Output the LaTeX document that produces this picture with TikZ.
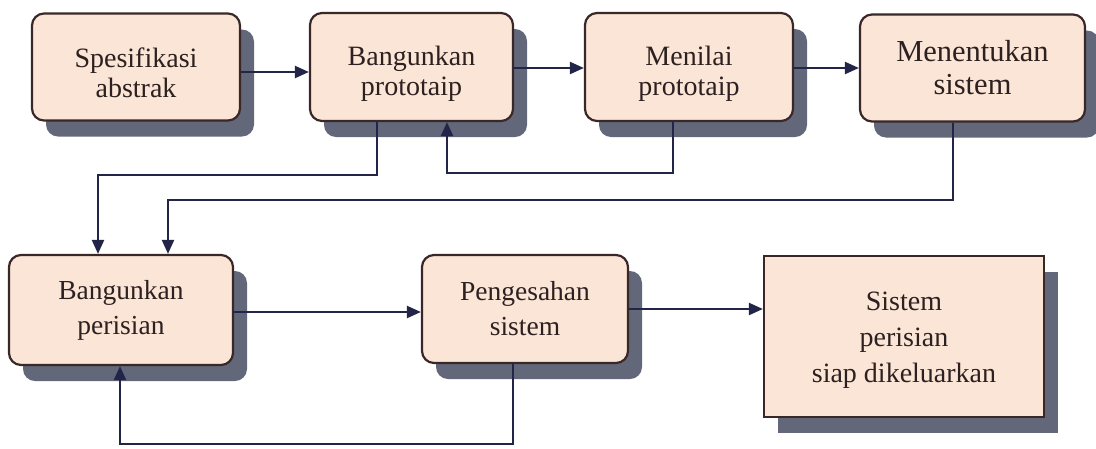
\documentclass[tikz,border=0pt]{standalone}
\usepackage{fontspec}
\setmainfont{Liberation Serif}
\usetikzlibrary{arrows.meta,shadows}

\definecolor{boxfill}{RGB}{250,229,214}
\definecolor{boxline}{RGB}{58,40,40}
\definecolor{shadowcol}{RGB}{98,103,122}
\definecolor{linecol}{RGB}{35,37,72}
\definecolor{textcol}{RGB}{45,32,32}

\newcommand{\lowtop}{\rule{0pt}{32pt}}

\tikzset{
  stage/.style={draw=boxline, line width=2.2pt, fill=boxfill, rounded corners=12pt,
    align=center, text=textcol, inner sep=0pt,
    drop shadow={shadow xshift=14pt, shadow yshift=-16pt, fill=shadowcol, opacity=1}},
  final/.style={stage, rounded corners=0pt},
  conn/.style={draw=linecol, line width=2.2pt, -{Triangle[length=14pt,width=12pt]}},
  fa/.style={font=\fontsize{28}{30}\selectfont},
  fb/.style={font=\fontsize{30.5}{33}\selectfont},
  fc/.style={font=\fontsize{27.5}{35}\selectfont},
  fd/.style={font=\fontsize{28}{36}\selectfont}
}

\begin{document}
\begin{tikzpicture}[x=1pt, y=-1pt]
\useasboundingbox (0,0) rectangle (1096,448);

% top row
\node[stage, fa, minimum width=208pt, minimum height=107pt] (spec) at (136,67) {\lowtop Spesifikasi\\abstrak};
\node[stage, fa, minimum width=203pt, minimum height=108pt] (proto) at (411.5,67) {\lowtop Bangunkan\\prototaip};
\node[stage, fa, minimum width=208pt, minimum height=108pt] (nilai) at (689,67) {\lowtop Menilai\\prototaip};
\node[stage, fb, minimum width=225pt, minimum height=107pt] (tentu) at (972.5,68) {Menentukan\\sistem};

% bottom row
\node[stage, fc, minimum width=224pt, minimum height=110pt] (bina) at (121,310) {Bangunkan\\perisian};
\node[stage, fc, minimum width=206pt, minimum height=108pt] (sah) at (525,309) {Pengesahan\\sistem};
\node[final, fd, minimum width=280pt, minimum height=161pt] (siap) at (904,336.5) {\rule{0pt}{26pt}Sistem\\perisian\\siap dikeluarkan};

% forward flow
\draw[conn] (spec.east |- 0,72) -- (proto.west |- 0,72);
\draw[conn] (proto.east |- 0,68) -- (nilai.west |- 0,68);
\draw[conn] (nilai.east |- 0,68) -- (tentu.west |- 0,68);
\draw[conn] (bina.east |- 0,312) -- (sah.west |- 0,312);
\draw[conn] (sah.east |- 0,309) -- (siap.west |- 0,309);

% feedback and hand-over lines
\draw[conn] (proto.south -| 377,0) |- (98,175) -- (98,0 |- bina.north);
\draw[conn] (nilai.south -| 673,0) |- (447,173) -- (447,0 |- proto.south);
\draw[conn] (tentu.south -| 953,0) |- (168,200) -- (168,0 |- bina.north);
\draw[conn] (sah.south -| 513,0) |- (120,444) -- (120,0 |- bina.south);
\end{tikzpicture}
\end{document}
